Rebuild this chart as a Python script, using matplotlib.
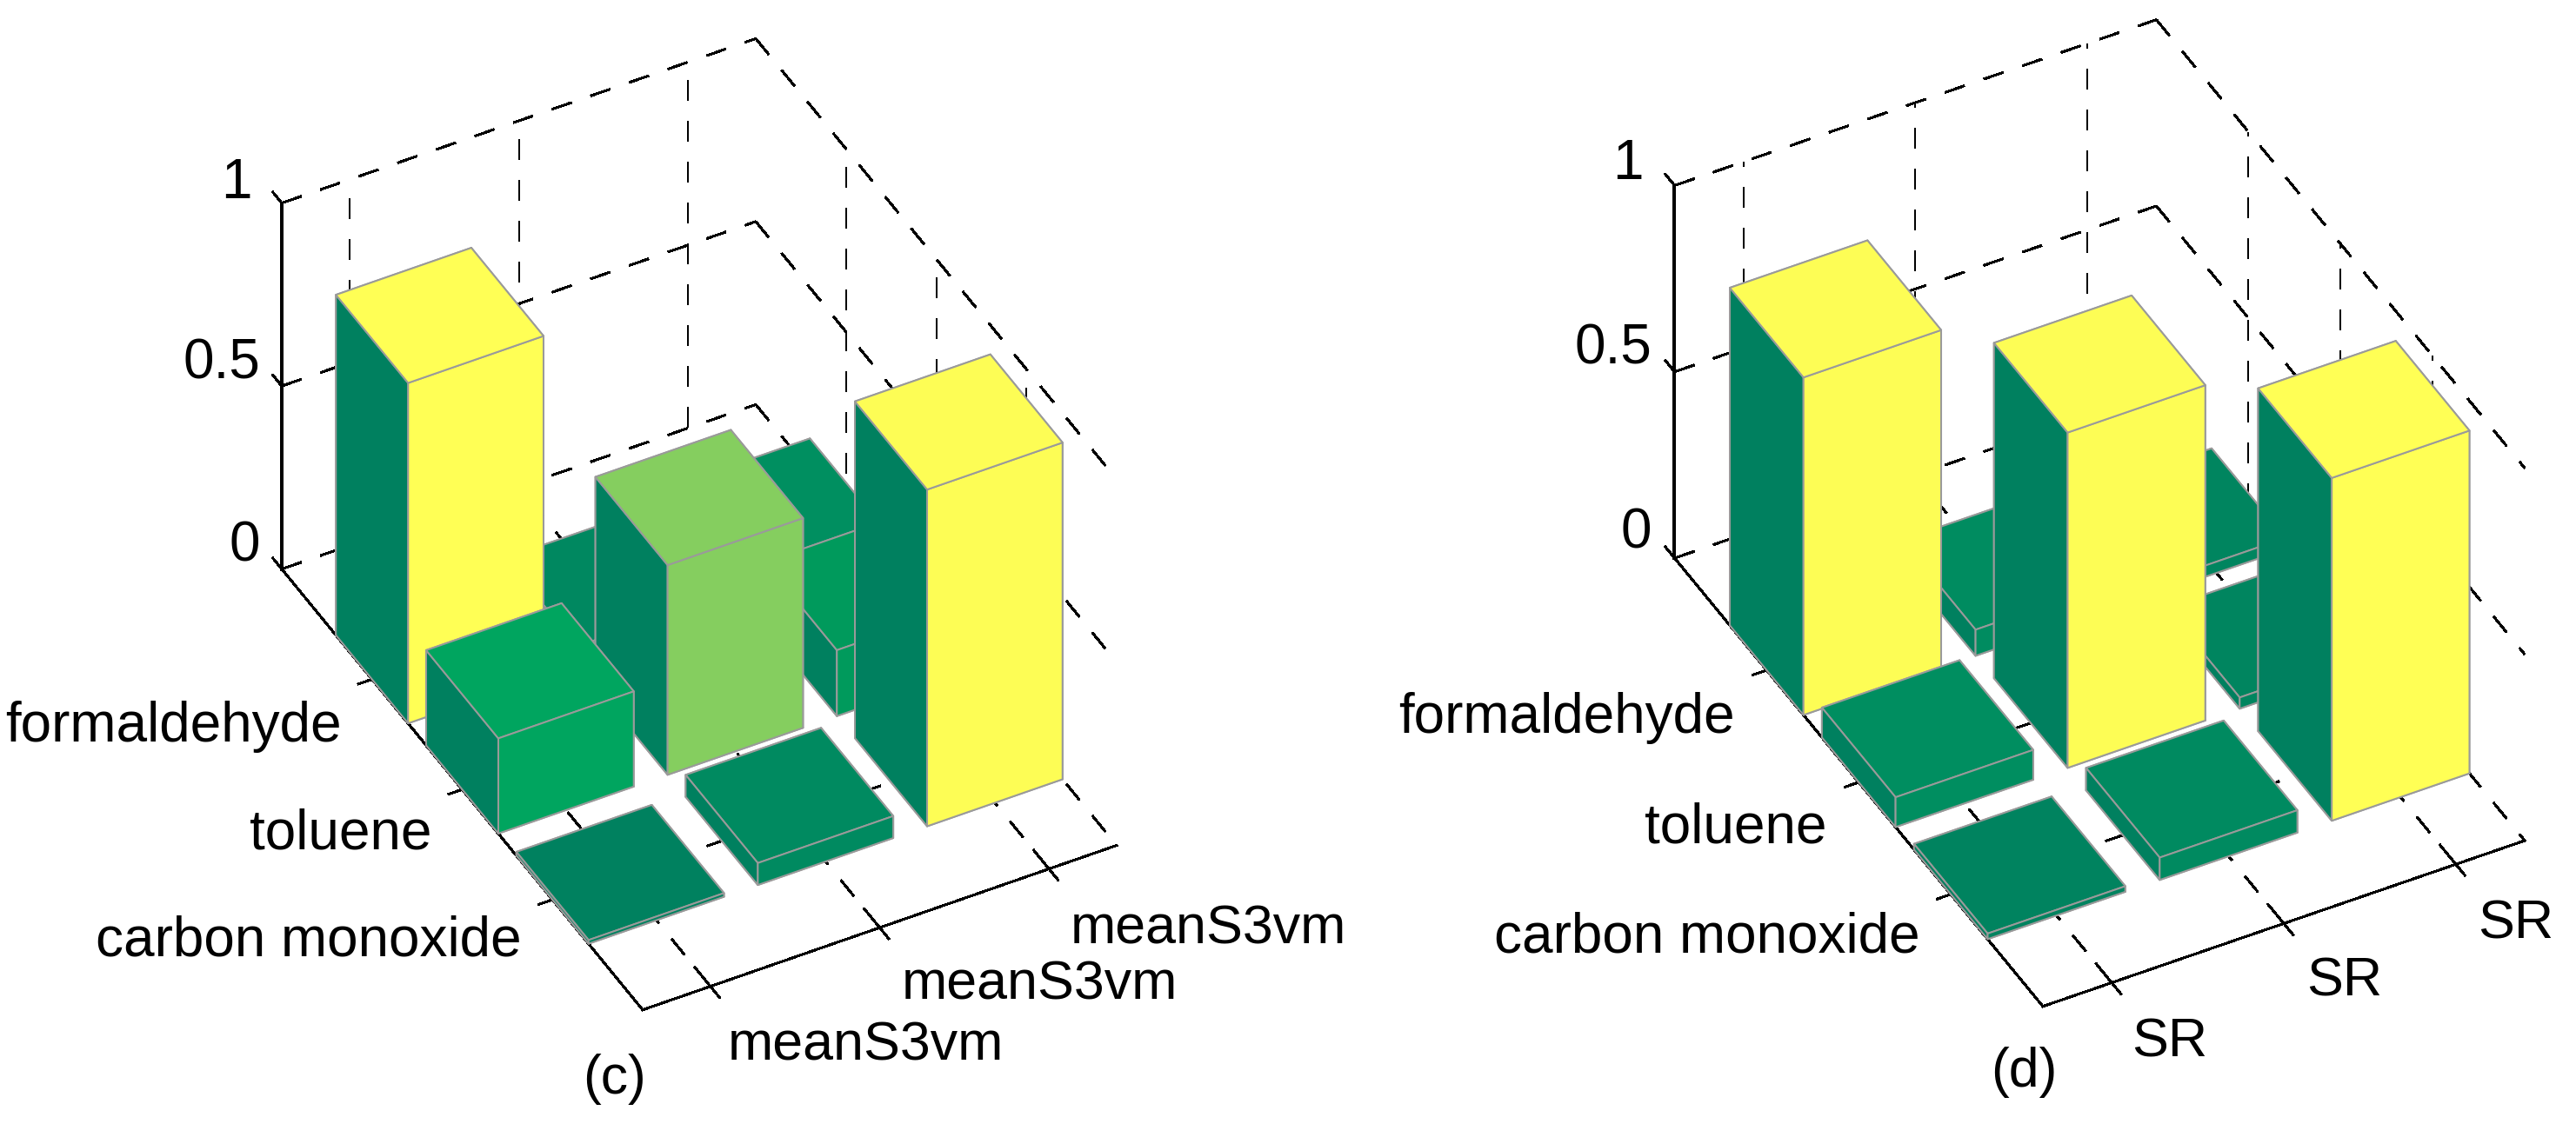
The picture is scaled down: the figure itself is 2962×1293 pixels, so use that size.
import numpy as np
import matplotlib
matplotlib.use("Agg")
import matplotlib.pyplot as plt
from matplotlib.colors import LinearSegmentedColormap
from mpl_toolkits.mplot3d import proj3d

plt.rcParams['font.family'] = ['Liberation Sans', 'DejaVu Sans']

W, H = 2962, 1293
ROWS = ['carbon monoxide', 'toluene', 'formaldehyde']
Z_TICKS = [0, 0.5, 1]
Z_TICK_LABELS = ['0', '0.5', '1']

# value[row][column]; rows in order of ROWS
VALUES_C = [[0.01, 0.06, 0.92],
            [0.26, 0.573, 0.18],
            [0.93, 0.05, 0.088]]
VALUES_D = [[0.015, 0.06, 0.92],
            [0.08, 0.90, 0.03],
            [0.906, 0.07, 0.03]]
COLUMNS_C = ['meanS3vm', 'meanS3vm', 'meanS3vm']
COLUMNS_D = ['SR', 'SR', 'SR']

XLIM = (0.6, 3.4)
YLIM = (0.0, 4.0)
BAR_W = 0.8
DARK = '#00805F'
EDGE = '#9A9A9A'
TOP_CMAP = LinearSegmentedColormap.from_list('summerlike', [
    (0.0, '#00805F'), (0.09, '#008F60'), (0.19, '#009A5C'), (0.28, '#00A55F'),
    (0.62, '#88CF5F'), (0.97, '#FCFC55'), (1.0, '#FFFF55')])
LW = 1.45

fig = plt.figure(figsize=(W / 100, H / 100), dpi=100, facecolor='white')


def px_of(ax, x, y, z):
    xs, ys, _ = proj3d.proj_transform(np.atleast_1d(x), np.atleast_1d(y), np.atleast_1d(z), ax.get_proj())
    return ax.transData.transform(np.column_stack([xs, ys]))[0]


def place(front, right, back, ztop_y, zero_y):
    """Create a 3D axes whose floor corners land on the given figure pixels."""
    f, r, b = map(np.array, (front, right, back))
    ex = (r - f) * [1, -1]
    ey = (b - f) * [1, -1]
    lz = zero_y - ztop_y
    a = ex[1] / ex[0]
    c = ey[1] / -ey[0]
    k = np.sqrt(a * c)
    elev = np.degrees(np.arcsin(k))
    azim = -180 + np.degrees(np.arctan(np.sqrt(c / a)))
    sp, cp = abs(np.sin(np.radians(azim))), abs(np.cos(np.radians(azim)))
    box = (ex[0] / sp, -ey[0] / cp, lz / np.cos(np.radians(elev)))
    side = 1700
    ax = fig.add_axes([0, 0, side / W, side / H], projection='3d', proj_type='ortho',
                      computed_zorder=False)
    ax.set_xlim(*XLIM); ax.set_ylim(*YLIM); ax.set_zlim(0, 1)
    ax.view_init(elev=elev, azim=azim)
    ax.set_box_aspect(box, zoom=1)
    ax.set_axis_off()
    ax.patch.set_alpha(0)
    ax.apply_aspect()
    p0 = px_of(ax, XLIM[0], YLIM[0], 0); p1 = px_of(ax, XLIM[1], YLIM[0], 0)
    zoom = np.hypot(*ex) / np.hypot(*(p1 - p0))
    ax.set_box_aspect(box, zoom=zoom)
    p0 = px_of(ax, XLIM[0], YLIM[0], 0)
    dx = f[0] - p0[0]
    dy = (H - f[1]) - p0[1]
    ax.set_position([dx / W, dy / H, side / W, side / H])
    ax.apply_aspect()
    return ax


def draw_panel(ax, values, cmax, columns, col_pos, row_pos, z_pos, tag):
    dash = dict(color='black', lw=1.45, ls=(0, (11.5, 11.5)), zorder=1, antialiased=False)
    solid = dict(color='black', lw=1.45, zorder=2, antialiased=False)
    xs = [1, 2, 3]
    ys = [1, 2, 3]
    # floor grid
    for x in xs:
        ax.plot([x, x], [YLIM[0], YLIM[1]], [0, 0], **dash)
        ax.plot([x, x], [YLIM[0] - 0.1, YLIM[0] + 0.17], [0, 0], **solid)
    for y in ys:
        ax.plot(XLIM, [y, y], [0, 0], **dash)
        ax.plot([XLIM[0] - 0.08, XLIM[0] + 0.08], [y, y], [0, 0], **solid)
    # walls
    for z in Z_TICKS:
        ax.plot(XLIM, [YLIM[1]] * 2, [z, z], **dash)
        ax.plot([XLIM[1]] * 2, [YLIM[1], YLIM[0]], [z, z], **dash)
        ax.plot([XLIM[0], XLIM[0]], [YLIM[1], YLIM[1] + 0.1], [z, z], **solid)
        ax.plot([XLIM[0], XLIM[0] + 0.11], [YLIM[1], YLIM[1]], [z, z], **solid)
    for x in xs:
        ax.plot([x, x], [YLIM[1]] * 2, [0, 1], **dash)
    for y in ys:
        ax.plot([XLIM[1]] * 2, [y, y], [0, 1], **dash)
    # axis lines
    ax.plot(XLIM, [YLIM[0]] * 2, [0, 0], **solid)
    ax.plot([XLIM[0]] * 2, YLIM, [0, 0], **solid)
    ax.plot([XLIM[0]] * 2, [YLIM[1]] * 2, [0, 1], **solid)
    # bars, far ones first
    order = 10
    for r in (2, 1, 0):
        for c in (2, 1, 0):
            h = values[r][c]
            top = TOP_CMAP(min(h / cmax, 1.0))
            faces = [DARK, top, top, DARK, DARK, top]
            coll = ax.bar3d(c + 1 - BAR_W / 2, r + 1 - BAR_W / 2, 0, BAR_W, BAR_W, h,
                            color=faces, edgecolor=EDGE, linewidth=LW, shade=False)
            coll.set_zorder(order)
            order += 1
    # texts
    fs = 46
    for lab, (xp, yp) in zip(ROWS, row_pos):
        fig.text(xp / W, 1 - yp / H, lab, ha='right', va='baseline', fontsize=fs, color='black')
    for lab, (xp, yp) in zip(columns, col_pos):
        fig.text(xp / W, 1 - yp / H, lab, ha='left', va='baseline', fontsize=fs - 0.8, color='black')
    for lab, (xp, yp) in zip(Z_TICK_LABELS, z_pos):
        fig.text(xp / W, 1 - yp / H, lab, ha='right', va='baseline', fontsize=fs, color='black')
    fig.text(tag[1] / W, 1 - tag[2] / H, tag[0], ha='center', va='baseline', fontsize=45, color='black')


ax_c = place((739, 1161.7), (1284, 972.5), (324, 654.6), 233.6, 654.6)
draw_panel(ax_c, VALUES_C, 0.935, COLUMNS_C,
           [(837, 1219), (1037, 1149), (1231, 1085)],
           [(600, 1099.6), (497, 976.7), (393, 852.7)],
           [(299, 646), (299, 435.6), (290, 228)],
           ('(c)', 707, 1257.7))

ax_d = place((2349, 1157.7), (2903, 967), (1925.5, 642), 213.4, 642)
draw_panel(ax_d, VALUES_D, 0.925, COLUMNS_D,
           [(2451, 1216), (2652, 1145), (2849, 1080)],
           [(2208, 1095), (2101, 969), (1995, 843)],
           [(1899, 630.5), (1899, 418.8), (1890, 206)],
           ('(d)', 2327, 1250))

fig.savefig('out.png', dpi=100, facecolor='white')
